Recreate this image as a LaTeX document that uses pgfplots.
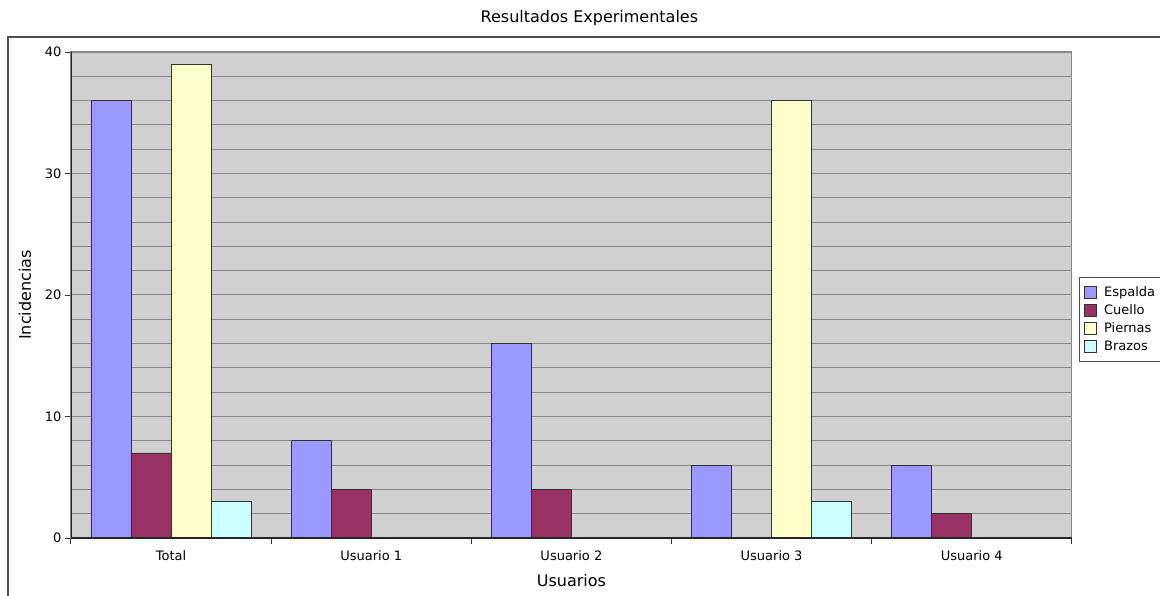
\documentclass[border=0pt]{standalone}
\usepackage{pgfplots}
\pgfplotsset{compat=1.18}
\usepackage{fontspec}
\setmainfont{DejaVu Sans}
\definecolor{bgcol}{RGB}{208,208,208}
\definecolor{gridcol}{RGB}{136,136,136}
\definecolor{cEsp}{RGB}{153,153,255}
\definecolor{cCue}{RGB}{153,51,102}
\definecolor{cPie}{RGB}{255,255,204}
\definecolor{cBra}{RGB}{204,255,255}
\definecolor{edgecol}{RGB}{50,50,50}
\newcommand{\fs}[1]{\fontsize{#1}{#1}\selectfont}
\begin{document}
\begin{tikzpicture}[x=1pt,y=1pt]
\useasboundingbox (0,0) rectangle (1160,595);
\draw[black!70, line width=1.2pt] (8,-2) -- (8,558) -- (1162,558);
\begin{axis}[
  scale only axis, width=1001pt, height=486pt,
  at={(171pt,57pt)}, anchor=origin,
  xmin=-0.5, xmax=4.5, ymin=0, ymax=40,
  ybar=0pt, bar width=0.2,
  xtick={-0.5,0.5,1.5,2.5,3.5,4.5}, xticklabels={},
  extra x ticks={0,1,2,3,4},
  extra x tick labels={Total,Usuario 1,Usuario 2,Usuario 3,Usuario 4},
  extra x tick style={major tick length=0pt, xticklabel style={yshift=-9pt}},
  xtick pos=bottom, ytick pos=left,
  tick align=outside, major tick length=6pt, minor tick length=0pt,
  ytick={0,10,20,30,40}, minor ytick={2,4,...,38},
  ymajorgrids, yminorgrids,
  major grid style={draw=gridcol, line width=1pt},
  minor grid style={draw=gridcol, line width=1pt},
  axis background/.style={fill=bgcol},
  axis line style={draw=gridcol, line width=1.2pt},
  tick style={draw=black!80, line width=0.9pt},
  ticklabel style={font=\fs{13}},
  /pgf/number format/assume math mode=true,
  every axis title shift=0pt,
  title={Resultados Experimentales},
  title style={font=\fs{16}, at={(axis description cs:0.518,1.07)}, anchor=center},
  xlabel={Usuarios},
  xlabel style={font=\fs{16}, at={(axis description cs:0.5,-0.088)}, anchor=center},
  ylabel={Incidencias},
  ylabel style={font=\fs{16}, at={(axis description cs:-0.046,0.5)}, anchor=center},
  legend style={at={(axis description cs:1.007,0.537)}, anchor=north west,
    draw=black!70, line width=0.8pt, font=\fs{13}, inner xsep=5pt, inner ysep=7.5pt,
    row sep=2.5pt},
  legend cell align=left,
  mylegend/.style={legend image code/.code={\draw[##1, line width=0.8pt] (0pt,-6pt) rectangle (12pt,6pt); \path (17pt,0pt);}},
]
\addplot[fill=cEsp, draw=edgecol, line width=0.8pt, mylegend] coordinates {(0,36) (1,8) (2,16) (3,6) (4,6)};
\addplot[fill=cCue, draw=edgecol, line width=0.8pt, mylegend] coordinates {(0,7) (1,4) (2,4) (4,2)};
\addplot[fill=cPie, draw=edgecol, line width=0.8pt, mylegend] coordinates {(0,39) (3,36)};
\addplot[fill=cBra, draw=edgecol, line width=0.8pt, mylegend] coordinates {(0,3) (3,3)};
\legend{Espalda,Cuello,Piernas,Brazos}
\draw[black!85, line width=1.2pt] (rel axis cs:0,1) -- (rel axis cs:0,0) -- (rel axis cs:1,0);
\end{axis}
\end{tikzpicture}
\end{document}
